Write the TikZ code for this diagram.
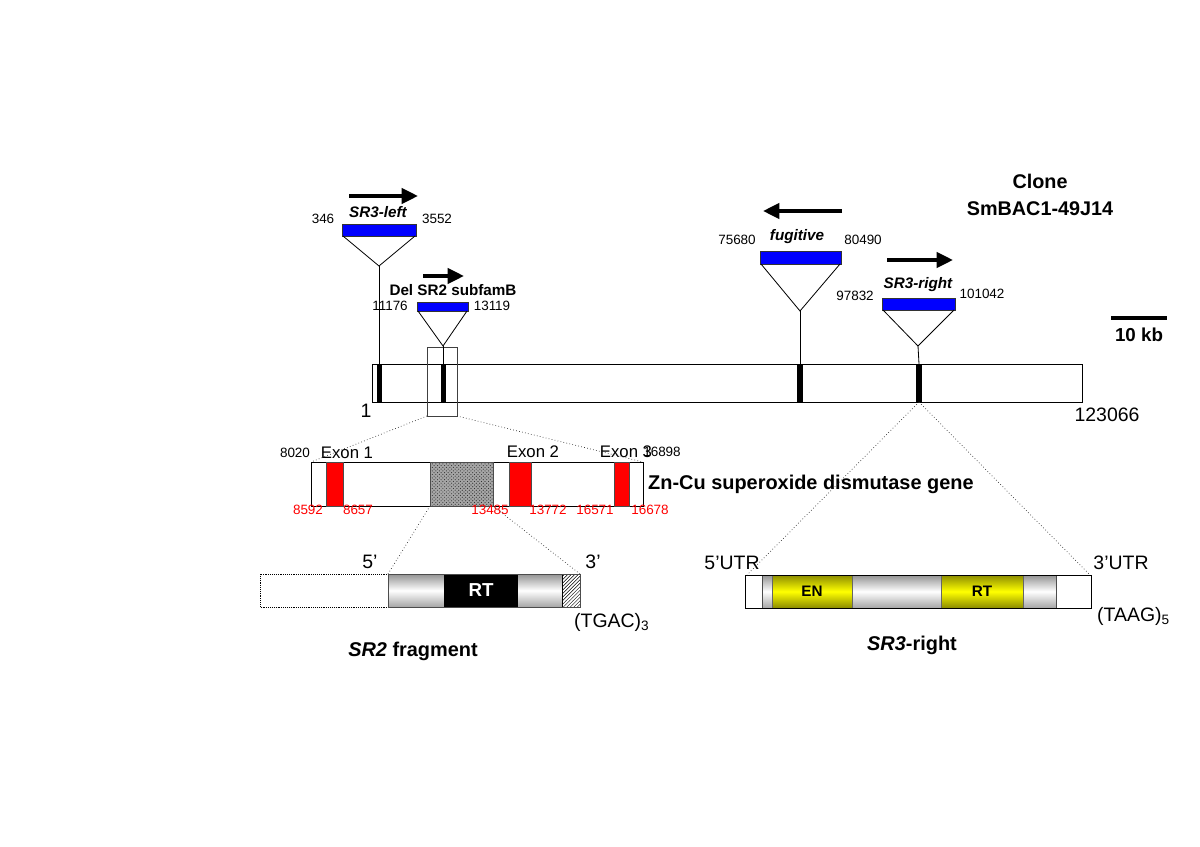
\documentclass[tikz,border=0pt]{standalone}
\usepackage{fontspec}
\setmainfont{Liberation Sans}
\usetikzlibrary{patterns,arrows.meta}
\begin{document}
\begin{tikzpicture}[x=0.03cm,y=-0.03cm,
  thinline/.style={line width=0.7pt},
  num/.style={font=\fontsize{11.5}{13}\selectfont, inner sep=0pt},
  rednum/.style={num, text=red},
  lbl/.style={font=\fontsize{14.3}{16}\selectfont, inner sep=0pt},
  biglbl/.style={font=\fontsize{16.6}{19}\selectfont, inner sep=0pt},
  blbl/.style={font=\bfseries\fontsize{17}{20}\selectfont, inner sep=0pt},
  clbl/.style={font=\bfseries\fontsize{16.9}{23}\selectfont, inner sep=0pt},
  telbl/.style={font=\bfseries\itshape\fontsize{13}{15}\selectfont, inner sep=0pt},
  dlbl/.style={font=\bfseries\fontsize{13}{15}\selectfont, inner sep=0pt},
  boxlbl/.style={font=\bfseries\fontsize{13}{15}\selectfont, inner sep=0pt},
  bluebar/.style={draw=black!80, line width=0.5pt, fill=blue},
  blackmark/.style={fill=black, draw=none},
  dirarrow/.style={line width=3.2pt, -{Triangle[length=14pt,width=13pt]}},
  linkline/.style={thinline},
  zoomline/.style={line width=0.6pt, dotted, draw=black!80},
  exonbox/.style={fill=red, draw=black!70, line width=0.5pt},
  greyseg/.style={top color=gray!85, bottom color=gray!70, middle color=white, draw=none},
  yellowseg/.style={top color=yellow!55!black, bottom color=yellow!55!black, middle color=yellow, draw=black!60, line width=0.5pt},
]
\useasboundingbox (0,0) rectangle (1200,847);

% ---------- main BAC bar ----------
\draw[thinline] (372,364) rectangle (1082,402);
\fill[blackmark] (377,364) rectangle (382,402);
\fill[blackmark] (441,364) rectangle (446,402);
\fill[blackmark] (797,364) rectangle (803,402);
\fill[blackmark] (916,364) rectangle (922,402);
\coordinate (m1) at (379,364);
\coordinate (m2) at (443,364);
\coordinate (m3) at (800,364);
\coordinate (m4) at (919,364);
\coordinate (m4b) at (919,402);
\node[biglbl] (one) at (366,411) {1};
\node[biglbl] (end) at (1107,415) {123066};

% zoom box around SR2 region
\draw[thinline, draw=black!75] (427,347) rectangle (457,416);
\coordinate (zbl) at (427,416);
\coordinate (zbr) at (457,416);

% ---------- SR3-left ----------
\draw[dirarrow] (349,196) -- (418,196);
\node[telbl] (sr3l) at (378,212) {SR3-left};
\node[num] (n346) at (323,219) {346};
\node[num] (n3552) at (437,219) {3552};
\draw[bluebar] (342,224) rectangle (416,236);
\coordinate (a1) at (379,266);
\draw[linkline] (343,236) -- (a1) -- (415,236);
\draw[linkline] (a1) -- (m1);

% ---------- Del SR2 subfamB ----------
\draw[dirarrow] (423,276) -- (464,276);
\node[dlbl] (del) at (453,290) {Del SR2 subfamB};
\node[num] (n11176) at (390,306) {11176};
\node[num] (n13119) at (492,306) {13119};
\draw[bluebar] (417,302) rectangle (468,311);
\coordinate (a2) at (443,346);
\draw[linkline] (418,311) -- (a2) -- (467,311);
\draw[linkline] (a2) -- (m2);

% ---------- fugitive ----------
\draw[dirarrow] (842,211) -- (763,211);
\node[telbl] (fug) at (797,237) {fugitive};
\node[num] (n75680) at (737,240) {75680};
\node[num] (n80490) at (863,240) {80490};
\draw[bluebar] (760,251) rectangle (841,264);
\coordinate (a3) at (800,311);
\draw[linkline] (761,264) -- (a3) -- (840,264);
\draw[linkline] (a3) -- (m3);

% ---------- SR3-right ----------
\draw[dirarrow] (887,260) -- (953,260);
\node[telbl] (sr3r) at (918,285) {SR3-right};
\node[num] (n97832) at (855,296) {97832};
\node[num] (n101042) at (982,294) {101042};
\draw[bluebar] (882,298) rectangle (955,310);
\coordinate (a4) at (918,346);
\draw[linkline] (883,310) -- (a4) -- (954,310);
\draw[linkline] (a4) -- (m4);

% ---------- clone title and scale ----------
\node[clbl, align=center] (clone) at (1040,195) {Clone\\SmBAC1-49J14};
\coordinate (sb1) at (1111,318);
\coordinate (sb2) at (1167,318);
\draw[line width=3.4pt] (sb1) -- (sb2);
\node[font=\bfseries\fontsize{16}{19}\selectfont, inner sep=0pt] (kb) at (1139,335) {10 kb};

% ---------- SOD gene ----------
\draw[thinline] (311,462) rectangle (643,506);
\coordinate (gtl) at (311,462);
\coordinate (gtr) at (643,462);
\fill[gray!70] (430,462) rectangle (493,506);
\fill[pattern=crosshatch dots, pattern color=black!80] (430,462) rectangle (493,506);
\draw[line width=0.5pt, draw=black!70] (430,462) rectangle (493,506);
\coordinate (hbl) at (430,506);
\coordinate (hbr) at (493,506);
\draw[exonbox] (326,462) rectangle (343,506);
\draw[exonbox] (509,462) rectangle (531,506);
\draw[exonbox] (614,462) rectangle (629,506);
\node[num] (n8020) at (295,453) {8020};
\node[lbl] (ex1) at (347,453) {Exon 1};
\node[lbl] (ex2) at (533,452) {Exon 2};
\node[lbl] (ex3) at (626,452) {Exon 3};
\node[num] (n16898) at (662,452) {16898};
\node[rednum] (r1) at (308,510) {8592};
\node[rednum] (r2) at (358,510) {8657};
\node[rednum] (r3) at (490,510) {13485};
\node[rednum] (r4) at (548,510) {13772};
\node[rednum] (r5) at (595,510) {16571};
\node[rednum] (r6) at (650,510) {16678};
\node[blbl, anchor=west] (sod) at (648,484) {Zn-Cu superoxide dismutase gene};

\draw[zoomline] (zbl) -- (gtl);
\draw[zoomline] (zbr) -- (gtr);

% ---------- SR2 fragment ----------
\draw[line width=0.6pt, densely dotted] (260,574) rectangle (388,607);
\shade[greyseg] (388,574) rectangle (444,607);
\fill[black] (444,574) rectangle (518,607);
\shade[greyseg] (518,574) rectangle (562,607);
\fill[white] (562,574) rectangle (580,607);
\fill[pattern=north east lines] (562,574) rectangle (580,607);
\draw[line width=0.5pt] (562,574) rectangle (580,607);
\draw[line width=0.6pt, draw=black!70] (388,574) rectangle (580,607);
\coordinate (f1) at (388,574);
\coordinate (f2) at (580,574);
\node[font=\bfseries\fontsize{16}{19}\selectfont, inner sep=0pt, text=white] (rt1) at (481,590) {RT};
\node[biglbl] (p5) at (370,562) {5’};
\node[biglbl] (p3) at (593,562) {3’};
\node[biglbl, anchor=west] (tgac) at (574,622) {(TGAC)\textsubscript{3}};
\node[blbl] (sr2lbl) at (413,651) {\textit{SR2} fragment};
\draw[zoomline] (hbl) -- (f1);
\draw[zoomline] (hbr) -- (f2);

% ---------- SR3-right element ----------
\draw[line width=0.6pt] (745,575) rectangle (1091,608);
\shade[greyseg] (762,575) rectangle (1056,608);
\shade[yellowseg] (772,575) rectangle (852,608);
\shade[yellowseg] (941,575) rectangle (1023,608);
\draw[line width=0.5pt, draw=black!70] (762,575) rectangle (1056,608);
\draw[line width=0.6pt] (745,575) rectangle (1091,608);
\coordinate (s1) at (747,575);
\coordinate (s2) at (1090,575);
\node[boxlbl] (en) at (812,591) {EN};
\node[boxlbl] (rt2) at (982,591) {RT};
\node[biglbl] (u5) at (732,563) {5’UTR};
\node[biglbl] (u3) at (1121,563) {3’UTR};
\node[biglbl, anchor=west] (taag) at (1097,616) {(TAAG)\textsubscript{5}};
\node[blbl] (sr3lbl) at (912,645) {\textit{SR3}-right};
\draw[zoomline] (m4b) -- (s1);
\draw[zoomline] (m4b) -- (s2);
\end{tikzpicture}
\end{document}
